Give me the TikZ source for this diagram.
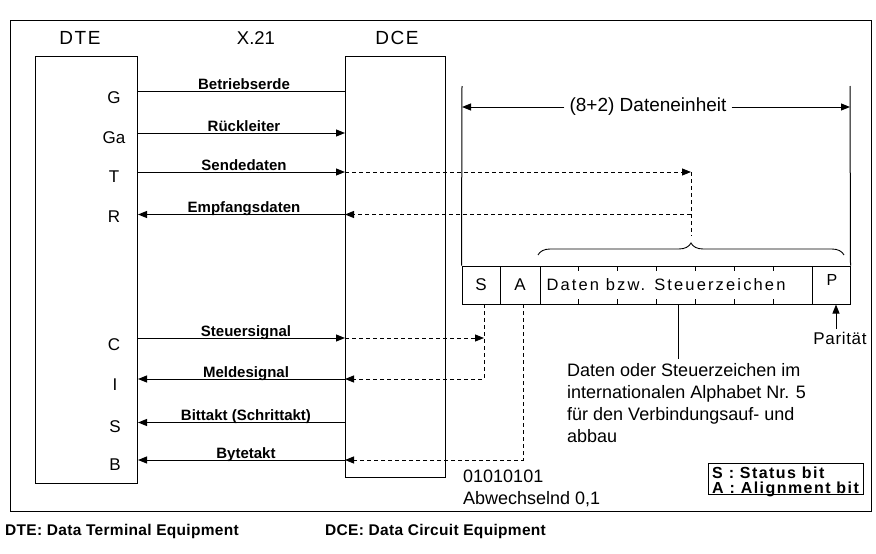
\documentclass[tikz,border=0pt]{standalone}
\usepackage{fontspec}
\setmainfont{Liberation Sans}
\usetikzlibrary{arrows.meta,decorations.pathreplacing}
\begin{document}
\begin{tikzpicture}[x=1pt,y=-1pt,
  box/.style={draw,line width=1pt,inner sep=0pt},
  sig/.style={line width=1pt},
  arr/.style={sig,-{Triangle[length=9pt,width=7pt]}},
  dsh/.style={line width=0.9pt,dash pattern=on 4pt off 3pt},
  darr/.style={dsh,-{Triangle[length=9pt,width=7pt]}},
  lbl/.style={font=\fontsize{15}{18}\selectfont\bfseries,anchor=base,inner sep=0pt},
  pinl/.style={font=\fontsize{17}{20}\selectfont,anchor=base,inner sep=0pt},
  ttl/.style={font=\fontsize{19}{23}\selectfont\addfontfeature{LetterSpace=8},anchor=base,inner sep=0pt},
  rtext/.style={font=\fontsize{18}{22}\selectfont,inner sep=0pt},
]
\useasboundingbox (0,0) rectangle (876,554);
% outer frame
\draw[line width=0.9pt] (10,20) rectangle (871,511);

% titles
\node[ttl] (tdte) at (80,45) {DTE};
\node[ttl,font=\fontsize{18.5}{22}\selectfont] (tx) at (256,45) {X.21};
\node[ttl] (tdce) at (397,45) {DCE};

% boxes
\node[box,minimum width=102,minimum height=427,anchor=north west] (dte) at (35,56) {};
\node[box,minimum width=100,minimum height=421,anchor=north west] (dce) at (345,56) {};

% pin letters
\node[pinl] (pG)  at (114,103) {G};
\node[pinl] (pGa) at (114,143) {Ga};
\node[pinl] (pT)  at (114,182) {T};
\node[pinl] (pR)  at (114,222) {R};
\node[pinl] (pC)  at (114,350) {C};
\node[pinl] (pI)  at (115,390) {I};
\node[pinl] (pS)  at (115,432) {S};
\node[pinl] (pB)  at (115,470) {B};

% line levels
\coordinate (yG)  at (0,91.5);
\coordinate (yGa) at (0,133);
\coordinate (yT)  at (0,172);
\coordinate (yR)  at (0,214.5);
\coordinate (yC)  at (0,338);
\coordinate (yI)  at (0,379);
\coordinate (yS)  at (0,422.5);
\coordinate (yB)  at (0,460);

% interface lines
\draw[sig] (dte.east |- yG) -- (dce.west |- yG);
\draw[arr] (dte.east |- yGa) -- (dce.west |- yGa);
\draw[arr] (dte.east |- yT) -- (dce.west |- yT);
\draw[arr] (dce.west |- yR) -- (dte.east |- yR);
\draw[arr] (dte.east |- yC) -- (dce.west |- yC);
\draw[arr] (dce.west |- yI) -- (dte.east |- yI);
\draw[arr] (dce.west |- yS) -- (dte.east |- yS);
\draw[arr] (dce.west |- yB) -- (dte.east |- yB);

% line labels
\node[lbl] (lG)  at (244,89.5) {Betriebserde};
\node[lbl] (lGa) at (244,131) {Rückleiter};
\node[lbl] (lT)  at (244,170) {Sendedaten};
\node[lbl] (lR)  at (244,212.5) {Empfangsdaten};
\node[lbl] (lC)  at (246,336) {Steuersignal};
\node[lbl] (lI)  at (246,377) {Meldesignal};
\node[lbl] (lS)  at (246,420.5) {Bittakt (Schrittakt)};
\node[lbl] (lB)  at (246,458) {Bytetakt};

% character frame
\node[box,minimum width=38,minimum height=38,font=\fontsize{17}{20}\selectfont] (fs) at (481,285) {S};
\node[box,minimum width=40,minimum height=38,font=\fontsize{17}{20}\selectfont] (fa) at (520,285) {A};
\node[box,minimum width=272,minimum height=38] (fd) at (676,285) {};
\node[box,minimum width=38,minimum height=38] (fp) at (831,285) {};
\node[font=\fontsize{16}{19}\selectfont,inner sep=0pt] (fpt) at (832,280) {P};
\node[font=\fontsize{16.5}{19}\selectfont\addfontfeature{LetterSpace=13},inner sep=0pt] (fdt) at (666,285) {Daten bzw. Steuerzeichen};
\foreach \k in {1,...,6} {
  \draw[line width=0.8pt] ({540+38.857*\k},266) -- ++(0,5);
  \draw[line width=0.8pt] ({540+38.857*\k},304) -- ++(0,-5);
}

% (8+2) Dateneinheit
\coordinate (vl) at (462,86);
\coordinate (vr) at (850,86);
\draw[sig] (vl) -- (fs.north west);
\draw[sig] (vr) -- (fp.north east);
\node[font=\fontsize{19}{22}\selectfont,inner xsep=5pt,inner ysep=0pt] (de) at (648,107) {(8+2) Dateneinheit};
\draw[arr] (de.west) -- (de.west -| vl);
\draw[arr] (de.east) -- (de.east -| vr);

% brace
\draw[line width=0.9pt,decorate,decoration={brace,amplitude=12pt}] (538,255) -- (844,255);
\coordinate (sd) at (691,172);
\coordinate (bt) at (691,236);
\draw[darr] (dce.west |- yT) -- (sd);
\draw[dsh] (sd) -- (bt);
\draw[darr] (sd |- yR) -- (dce.west |- yR);

% S and A dashed connections
\coordinate (svx) at (484,304);
\coordinate (avx) at (523,304);
\draw[darr] (dce.west |- yC) -- (svx |- yC);
\draw[darr] (svx) -- (svx |- yI) -- (dce.west |- yI);
\draw[darr] (avx) -- (avx |- yB) -- (dce.west |- yB);

% data description
\coordinate (dl) at (678,359);
\draw[line width=0.9pt] (dl |- fd.south) -- (dl);
\node[rtext,anchor=north west,align=left] (dtxt) at (567,363) {Daten oder Steuerzeichen im\\internationalen Alphabet Nr. 5\\für den Verbindungsauf- und\\abbau};

% parity
\node[font=\fontsize{17}{20}\selectfont\addfontfeature{LetterSpace=4},inner sep=0pt] (par) at (840,338) {Parität};
\coordinate (pa) at (836,329);
\draw[arr] (pa) -- (pa |- fp.south);

% alternating pattern
\node[rtext,anchor=base west] (alt1) at (463,482) {01010101};
\node[rtext,anchor=base west] (alt2) at (463,504) {Abwechselnd 0,1};

% legend
\node[box,anchor=north west,minimum width=155,minimum height=31] (leg) at (708,463) {};
\node[font=\fontsize{16}{19}\selectfont\bfseries\addfontfeature{LetterSpace=9},anchor=base west,inner sep=0pt] (ls) at (712,478) {S : Status bit};
\node[font=\fontsize{16}{19}\selectfont\bfseries\addfontfeature{LetterSpace=9},anchor=base west,inner sep=0pt] (la) at (712,493.5) {A : Alignment bit};

% footer
\node[font=\fontsize{15.5}{19}\selectfont\bfseries\addfontfeature{LetterSpace=2},anchor=base west,inner sep=0pt] (fdte) at (5,535) {DTE: Data Terminal Equipment};
\node[font=\fontsize{15.5}{19}\selectfont\bfseries\addfontfeature{LetterSpace=2},anchor=base west,inner sep=0pt] (fdce) at (325,535) {DCE: Data Circuit Equipment};
\end{tikzpicture}
\end{document}
